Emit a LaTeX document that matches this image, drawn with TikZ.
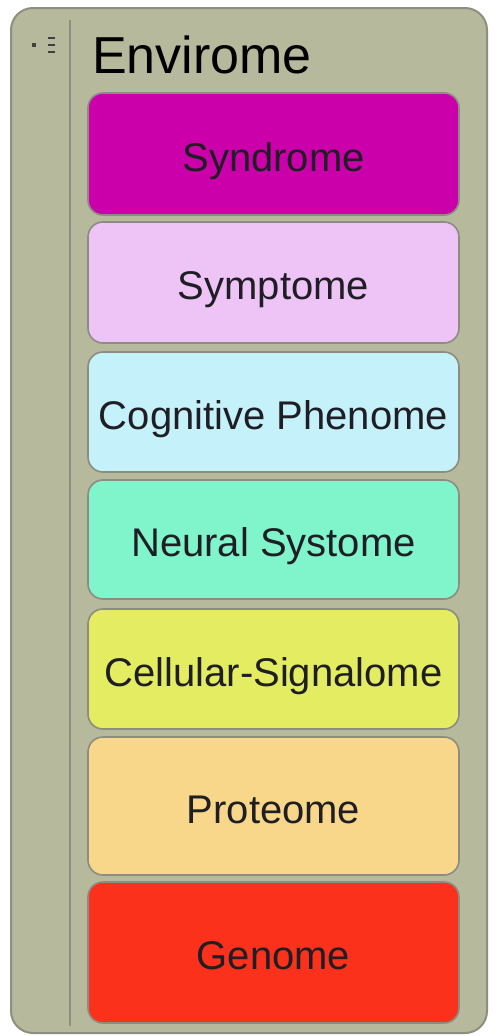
\documentclass[tikz,border=0pt]{standalone}
\usepackage{fontspec}
\setmainfont{Liberation Sans}
\definecolor{panelbg}{HTML}{B6B99B}
\definecolor{panelline}{HTML}{8E8F80}
\definecolor{boxline}{HTML}{8C8C80}
\definecolor{cSyndrome}{HTML}{CC00AA}
\definecolor{cSymptome}{HTML}{EEC3F6}
\definecolor{cCognitive}{HTML}{C4F1FA}
\definecolor{cNeural}{HTML}{80F4CB}
\definecolor{cCellular}{HTML}{E4ED62}
\definecolor{cProteome}{HTML}{F8D78A}
\definecolor{cGenome}{HTML}{FB311C}
\definecolor{labeltext}{HTML}{1E1E24}
\tikzset{
  layerbox/.style={draw=boxline, line width=1.6pt, rounded corners=15pt},
  layerlabel/.style={font=\fontsize{40}{44}\selectfont, text=labeltext, inner sep=0pt, anchor=base},
}
\begin{document}
\begin{tikzpicture}[x=1pt, y=-1pt]
  \useasboundingbox (0,0) rectangle (496,1036);
  \fill[white] (0,0) rectangle (496,1036);
  % outer panel
  \draw[fill=panelbg, draw=panelline, line width=2pt, rounded corners=22pt]
    (11,8) rectangle (487,1033);
  % divider between the gutter and the content
  \draw[panelline, line width=1.5pt] (70,20) -- (70,1026);
  % collapse icon in the gutter
  \fill[black!75] (32,43) rectangle (36,47);
  \foreach \yy in {38,45,52} \fill[black!75] (48,\yy-1.3) rectangle (55,\yy+1.3);
  % title
  \node[anchor=base west, inner sep=0pt, font=\fontsize{52}{56}\selectfont, text=black] (title) at (92,73) {Envirome};
  % layers
  \foreach \name/\col/\top/\bot/\txt in {
      syndrome/cSyndrome/93/215/Syndrome,
      symptome/cSymptome/222/343/Symptome,
      cognitive/cCognitive/352/472/Cognitive Phenome,
      neural/cNeural/480/599/Neural Systome,
      cellular/cCellular/609/729/Cellular-Signalome,
      proteome/cProteome/737/875/Proteome,
      genome/cGenome/882/1023/Genome} {
    \draw[layerbox, fill=\col] (88,\top) rectangle (459,\bot);
    \node[layerlabel] (\name) at (273.5,{(\top+\bot)/2+17}) {\txt};
  }
\end{tikzpicture}
\end{document}
